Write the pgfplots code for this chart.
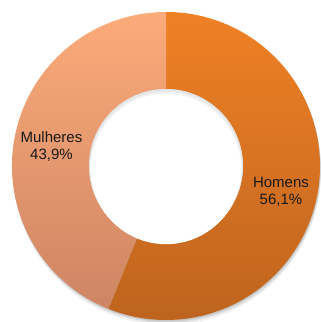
\documentclass[border=0pt]{standalone}
\usepackage{pgfplots}
\pgfplotsset{compat=1.18}
\usepackage{pgfplotstable}
\usepackage{fontspec}
\setmainfont{Liberation Sans}
\definecolor{hTop}{HTML}{EF8125}
\definecolor{hBot}{HTML}{BD631E}
\definecolor{mTop}{HTML}{FCAB7A}
\definecolor{mBot}{HTML}{CE8563}
\pgfplotstableread{
label value
Homens 56.1
Mulheres 43.9
}\datatable
\begin{document}
\begin{tikzpicture}
\pgfplotstablegetelem{0}{value}\of\datatable \pgfmathsetmacro{\vA}{\pgfplotsretval}
\pgfplotstablegetelem{1}{value}\of\datatable \pgfmathsetmacro{\vB}{\pgfplotsretval}
\pgfmathsetmacro{\aZero}{90}
\pgfmathsetmacro{\aOne}{90-3.6*\vA}
\pgfmathsetmacro{\aTwo}{\aOne-3.6*\vB}
\def\cx{166}\def\cy{-166}\def\R{154}\def\r{77}
\pgfmathsetmacro{\xa}{\cx+\R*cos(\aZero)}\pgfmathsetmacro{\ya}{\cy+\R*sin(\aZero)}
\pgfmathsetmacro{\xb}{\cx+\R*cos(\aOne)}\pgfmathsetmacro{\yb}{\cy+\R*sin(\aOne)}
\pgfmathsetmacro{\xbi}{\cx+\r*cos(\aOne)}\pgfmathsetmacro{\ybi}{\cy+\r*sin(\aOne)}
\pgfmathsetmacro{\xai}{\cx+\r*cos(\aZero)}\pgfmathsetmacro{\yai}{\cy+\r*sin(\aZero)}
\begin{axis}[
  at={(0pt,0pt)}, anchor=south west,
  scale only axis, width=321pt, height=322pt,
  xmin=0, xmax=321, ymin=-322, ymax=0,
  hide axis, clip=true,
]
% drop shadow
\fill[black, opacity=0.06] (axis cs:\cx+1,\cy-5) circle[radius=\R pt];
\fill[black, opacity=0.08] (axis cs:\cx+1,\cy-3) circle[radius=\R pt];
\fill[black, opacity=0.10] (axis cs:\cx+0.5,\cy-1.5) circle[radius=\R pt];
% Homens
\shade[top color=hTop, bottom color=hBot]
  (axis cs:\xa,\ya) arc[start angle=\aZero, end angle=\aOne, radius=\R pt]
  -- (axis cs:\xbi,\ybi) arc[start angle=\aOne, end angle=\aZero, radius=\r pt] -- cycle;
% Mulheres
\shade[top color=mTop, bottom color=mBot]
  (axis cs:\xb,\yb) arc[start angle=\aOne, end angle=\aTwo, radius=\R pt]
  -- (axis cs:\xai,\yai) arc[start angle=\aTwo+360, end angle=\aOne+360, radius=\r pt] -- cycle;
% inner hole shadow
\fill[white] (axis cs:\cx,\cy) circle[radius=\r pt];
\fill[black, opacity=0.10] (axis cs:\cx,\cy) circle[radius=\r pt];
\fill[white] (axis cs:\cx,\cy-1.5) circle[radius=\r pt-1pt];
\fill[black, opacity=0.05] (axis cs:\cx,\cy-1.5) circle[radius=\r pt-1pt];
\fill[white] (axis cs:\cx,\cy-3) circle[radius=\r pt-1.8pt];
% labels
\node[align=center, text=black!90, font=\fontsize{15}{17}\selectfont]
  at (axis cs:51.5,-147) {Mulheres\\43,9\%};
\node[align=center, text=black!90, font=\fontsize{15}{17}\selectfont]
  at (axis cs:281,-192) {Homens\\56,1\%};
\end{axis}
\pgfresetboundingbox
\path[use as bounding box] (0pt,0pt) rectangle (321pt,322pt);
\end{tikzpicture}
\end{document}
